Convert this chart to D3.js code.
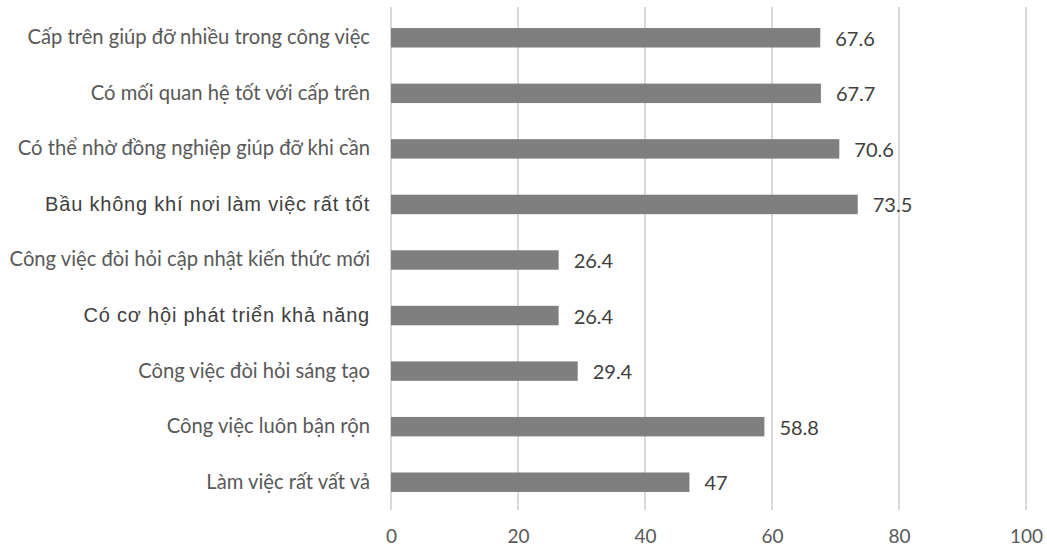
<!DOCTYPE html>
<html>
<head>
<meta charset="utf-8">
<script src="https://cdn.jsdelivr.net/npm/d3@7"></script>
<style>
  html, body { margin: 0; padding: 0; background: #fff; }
  svg { display: block; }
</style>
</head>
<body>
<svg id="chart" width="1047" height="548"></svg>
<script>
// Categories, top to bottom
const categories = [
  "Cấp trên giúp đỡ nhiều trong công việc",
  "Có mối quan hệ tốt với cấp trên",
  "Có thể nhờ đồng nghiệp giúp đỡ khi cần",
  "Bầu không khí nơi làm việc rất tốt",
  "Công việc đòi hỏi cập nhật kiến thức mới",
  "Có cơ hội phát triển khả năng",
  "Công việc đòi hỏi sáng tạo",
  "Công việc luôn bận rộn",
  "Làm việc rất vất vả"
];
const values = [67.6, 67.7, 70.6, 73.5, 26.4, 26.4, 29.4, 58.8, 47];
// Labels typed in a different face in the source document
const emphasised = ["Bầu không khí nơi làm việc rất tốt", "Có cơ hội phát triển khả năng"];
const xTicks = [0, 20, 40, 60, 80, 100];

const svg = d3.select("#chart");
const plotLeft = 391, plotRight = 1026, plotTop = 10, plotBottom = 510;
const bodyFont = "Lato, 'Open Sans', sans-serif";

const x = d3.scaleLinear().domain([0, 100]).range([plotLeft, plotRight]);
const y = d3.scaleBand().domain(categories).range([plotTop, plotBottom]).paddingInner(0.65).paddingOuter(0.325);

// Vertical gridlines
svg.append("g")
  .selectAll("line")
  .data(xTicks)
  .join("line")
  .attr("x1", d => x(d)).attr("x2", d => x(d))
  .attr("y1", 7).attr("y2", plotBottom)
  .attr("stroke", "#d9d9d9")
  .attr("stroke-width", 2);

// Bottom axis labels (baseline placed just above the lower edge)
const xAxis = d3.axisBottom(x).tickValues(xTicks).tickSize(0).tickPadding(0);
const gx = svg.append("g").attr("transform", `translate(0, 543)`).call(xAxis);
gx.select(".domain").remove();
gx.selectAll("text")
  .attr("dy", "0")
  .style("font-family", bodyFont)
  .style("font-size", "19px")
  .attr("fill", "#595959");

// Bars
svg.append("g")
  .selectAll("rect")
  .data(categories)
  .join("rect")
  .attr("x", x(0))
  .attr("y", d => y(d))
  .attr("width", (d, i) => x(values[i]) - x(0))
  .attr("height", y.bandwidth())
  .attr("fill", "#7f7f7f");

// Value labels
svg.append("g")
  .selectAll("text")
  .data(categories)
  .join("text")
  .attr("x", (d, i) => x(values[i]) + 15)
  .attr("y", d => y(d) + y.bandwidth() / 2 + 1)
  .attr("dy", "0.35em")
  .style("font-family", bodyFont)
  .style("font-size", "20px")
  .attr("fill", "#404040")
  .text((d, i) => values[i]);

// Category labels
const yAxis = d3.axisLeft(y).tickSize(0).tickPadding(21);
const gy = svg.append("g").attr("transform", `translate(${plotLeft}, 0)`).call(yAxis);
gy.select(".domain").remove();
gy.selectAll("text")
  .style("font-family", d => emphasised.includes(d) ? "'Liberation Sans', Arial, sans-serif" : bodyFont)
  .style("font-size", d => emphasised.includes(d) ? "20px" : "20.2px")
  .style("letter-spacing", d => emphasised.includes(d) ? "0.8px" : "0px")
  .attr("fill", d => emphasised.includes(d) ? "#404040" : "#595959");
</script>
</body>
</html>
